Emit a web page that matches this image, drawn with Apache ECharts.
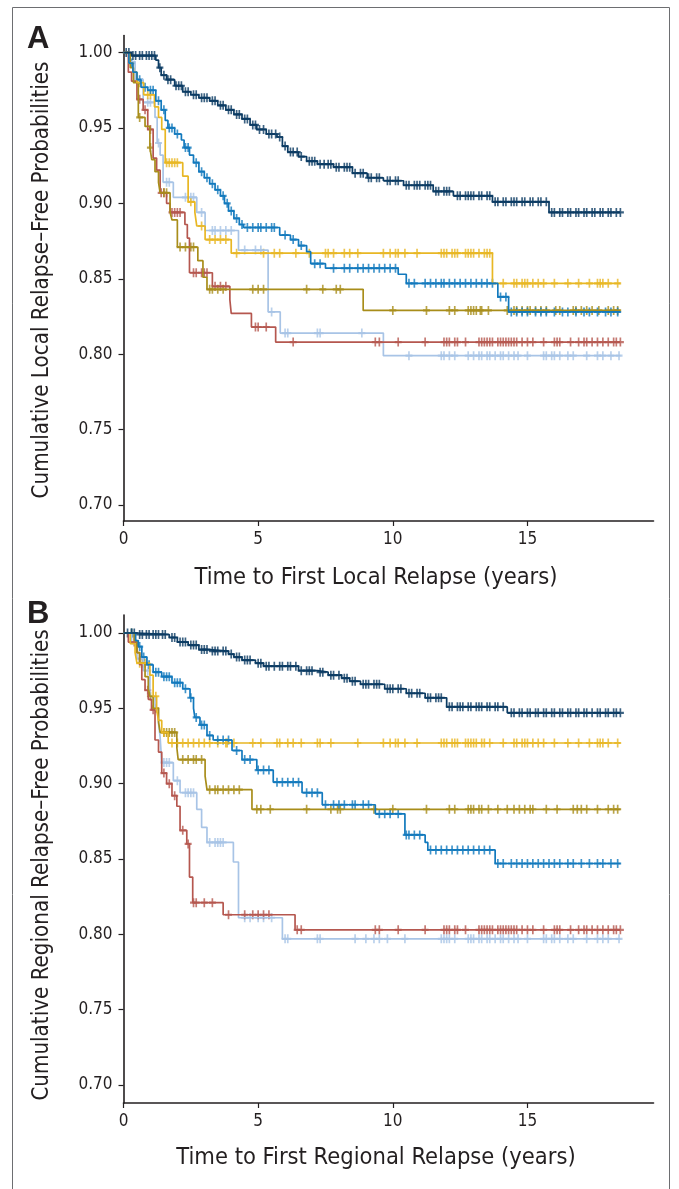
<!DOCTYPE html>
<html>
<head>
<meta charset="utf-8">
<script src="https://cdn.jsdelivr.net/npm/echarts@6/dist/echarts.min.js"></script>
<style>
html, body { margin: 0; padding: 0; background: #fff; }
#main { width: 679px; height: 1189px; }
</style>
</head>
<body>
<div id="main"></div>
<script type="text/javascript">
// tick labels
var yTicks = [0.70, 0.75, 0.80, 0.85, 0.90, 0.95, 1.00];
var xEnd = 18.45;

// ---- panel A : local relapse ----  [time, survival from that time on]
var aNavy = [[0,1],[0.3,0.998],[1.2,0.995],[1.3,0.99],[1.4,0.985],[1.6,0.982],[1.9,0.978],[2.2,0.974],[2.5,0.972],[2.8,0.970],[3.2,0.968],[3.5,0.965],[3.8,0.962],[4.1,0.959],[4.4,0.956],[4.7,0.952],[4.95,0.949],[5.3,0.946],[5.7,0.944],[5.9,0.938],[6.1,0.934],[6.5,0.931],[6.8,0.928],[7.2,0.926],[7.8,0.924],[8.5,0.920],[9.05,0.917],[9.65,0.915],[10.4,0.912],[11.5,0.908],[12.25,0.905],[13.7,0.901],[15.8,0.894]];
var aBlue = [[0,1],[0.2,0.993],[0.35,0.987],[0.5,0.982],[0.65,0.977],[0.9,0.975],[1.2,0.968],[1.4,0.962],[1.55,0.955],[1.65,0.950],[1.9,0.946],[2.15,0.942],[2.25,0.937],[2.45,0.932],[2.6,0.927],[2.8,0.921],[3.0,0.917],[3.2,0.913],[3.4,0.909],[3.6,0.905],[3.75,0.900],[3.9,0.895],[4.1,0.890],[4.3,0.886],[4.45,0.884],[5.8,0.879],[6.2,0.876],[6.5,0.872],[6.8,0.868],[6.95,0.860],[7.5,0.857],[10.2,0.853],[10.5,0.847],[13.9,0.838],[14.3,0.828]];
var aYellow = [[0,1],[0.2,0.993],[0.35,0.987],[0.5,0.980],[0.75,0.972],[1.15,0.964],[1.3,0.957],[1.42,0.949],[1.55,0.927],[2.2,0.918],[2.4,0.901],[2.65,0.894],[2.72,0.885],[3.03,0.876],[4.0,0.867],[13.7,0.847]];
var aOlive = [[0,1],[0.25,0.99],[0.37,0.98],[0.55,0.957],[0.8,0.951],[0.98,0.937],[1.05,0.929],[1.17,0.921],[1.3,0.914],[1.36,0.907],[1.73,0.894],[1.8,0.889],[2.0,0.871],[2.76,0.862],[2.95,0.851],[3.1,0.843],[8.9,0.829]];
var aLight = [[0,1],[0.25,0.994],[0.43,0.982],[0.73,0.967],[1.17,0.957],[1.25,0.94],[1.36,0.932],[1.47,0.914],[1.85,0.904],[2.72,0.894],[3.03,0.882],[4.27,0.869],[5.37,0.828],[5.82,0.814],[9.65,0.799]];
var aRed = [[0,1],[0.18,0.987],[0.3,0.981],[0.5,0.969],[0.73,0.962],[0.9,0.949],[1.1,0.930],[1.23,0.922],[1.36,0.907],[1.6,0.900],[1.73,0.894],[2.28,0.886],[2.37,0.877],[2.45,0.854],[3.3,0.845],[3.95,0.836],[4.0,0.827],[4.75,0.818],[5.65,0.808]];

// censored times, panel A
var aNavyCens = [0.1,0.2,0.35,0.45,0.6,0.7,0.85,0.95,1.05,1.15,1.35,1.5,1.65,1.75,1.95,2.05,2.15,2.3,2.4,2.6,2.7,2.9,3.0,3.1,3.3,3.4,3.6,3.7,3.9,4.0,4.2,4.3,4.5,4.6,4.8,4.9,5.05,5.2,5.4,5.5,5.65,5.8,6.0,6.2,6.3,6.45,6.6,6.9,7.0,7.1,7.3,7.45,7.6,7.7,7.9,8.0,8.2,8.3,8.4,8.6,8.8,8.9,9.1,9.2,9.4,9.5,9.8,9.9,10.1,10.2,10.5,10.6,10.8,10.9,11.0,11.2,11.3,11.4,11.6,11.7,11.9,12.0,12.1,12.4,12.5,12.7,12.8,12.9,13.0,13.2,13.3,13.5,13.6,13.8,13.9,14.1,14.2,14.4,14.5,14.6,14.8,14.9,15.1,15.2,15.4,15.5,15.7,15.9,16.0,16.2,16.3,16.5,16.6,16.8,16.9,17.1,17.2,17.4,17.5,17.7,17.8,18.0,18.1,18.3,18.45];
var aBlueCens = [0.3,0.6,0.8,1.0,1.1,1.3,1.5,1.7,1.8,2.0,2.3,2.4,2.7,2.9,3.1,3.3,3.5,3.7,3.85,4.0,4.2,4.4,4.6,4.8,5.0,5.1,5.3,5.5,5.6,6.0,6.3,6.6,7.1,7.3,7.8,8.2,8.4,8.7,8.9,9.1,9.3,9.5,9.7,9.9,10.1,10.6,10.8,11.2,11.4,11.6,11.8,11.9,12.1,12.3,12.5,12.7,12.9,13.1,13.3,13.5,13.7,14.0,14.2,14.4,14.6,14.8,15.0,15.3,15.5,15.7,16.0,16.3,16.5,16.8,17.1,17.3,17.6,17.9,18.1,18.35];
var aYellowCens = [0.6,0.9,1.0,1.6,1.7,1.8,1.9,2.0,2.5,2.9,3.2,3.4,3.6,3.8,4.2,5.2,5.6,5.8,6.4,6.9,7.5,7.6,7.8,8.2,8.4,8.7,9.65,9.9,10.1,10.2,10.45,10.9,11.8,11.9,12.0,12.2,12.3,12.4,12.7,12.8,12.9,13.0,13.2,13.4,13.5,13.6,14.1,14.5,14.6,14.8,14.9,15.0,15.2,15.4,15.6,16.0,16.5,16.9,17.3,17.6,17.7,17.8,18.0,18.35];
var aOliveCens = [0.6,1.0,1.5,1.6,2.1,2.3,2.5,2.6,3.2,3.3,3.5,3.7,4.8,5.0,5.2,6.8,7.4,7.9,8.05,10.0,11.25,12.1,12.3,12.8,12.9,13.0,13.1,13.25,13.3,13.55,14.25,14.5,14.6,14.8,15.0,15.1,15.3,15.5,15.7,16.05,16.2,16.7,16.8,17.0,17.2,17.4,17.65,18.0,18.2,18.35];
var aLightCens = [0.5,0.9,1.0,1.3,1.6,1.7,2.3,2.5,2.6,2.9,3.3,3.4,3.6,3.8,4.0,4.5,4.9,5.1,5.5,6.0,6.1,7.2,7.3,8.85,10.6,11.8,11.9,12.1,12.3,12.8,13.0,13.2,13.3,13.5,13.6,13.8,14.0,14.1,14.3,14.5,14.65,15.0,15.6,15.7,15.9,16.0,16.2,16.5,16.7,17.2,17.6,17.8,18.1,18.4];
var aRedCens = [0.6,0.8,1.0,1.4,1.5,1.8,1.9,2.0,2.1,2.6,2.7,2.9,3.0,3.1,3.4,3.6,3.8,4.9,5.0,5.3,6.3,9.35,9.5,10.2,11.2,11.9,12.0,12.1,12.3,12.4,12.7,13.2,13.3,13.4,13.5,13.6,13.7,13.9,14.0,14.1,14.2,14.3,14.4,14.5,14.6,14.8,15.0,15.2,15.6,16.0,16.1,16.2,16.6,16.9,17.1,17.2,17.4,17.6,17.8,18.0,18.2,18.3,18.45];

// ---- panel B : regional relapse ----
var bNavy = [[0,1],[0.5,0.999],[1.7,0.997],[2.0,0.994],[2.4,0.992],[2.8,0.989],[3.2,0.988],[3.9,0.986],[4.1,0.984],[4.4,0.982],[4.9,0.980],[5.2,0.978],[6.5,0.975],[7.2,0.974],[7.6,0.972],[8.1,0.970],[8.4,0.968],[8.8,0.966],[9.7,0.963],[10.5,0.960],[11.2,0.957],[12.0,0.951],[14.25,0.947]];
var bBlue = [[0,1],[0.45,0.995],[0.55,0.991],[0.68,0.984],[0.87,0.979],[1.1,0.974],[1.42,0.971],[1.8,0.967],[2.2,0.963],[2.47,0.957],[2.6,0.950],[2.65,0.944],[2.84,0.939],[3.1,0.932],[3.33,0.929],[4.03,0.922],[4.4,0.916],[4.95,0.909],[5.56,0.901],[6.63,0.894],[7.38,0.886],[9.35,0.880],[10.45,0.866],[11.2,0.861],[11.3,0.856],[13.8,0.847]];
var bYellow = [[0,1],[0.25,0.993],[0.43,0.987],[0.5,0.980],[0.98,0.972],[1.1,0.958],[1.23,0.949],[1.3,0.942],[1.42,0.934],[1.66,0.927]];
var bOlive = [[0,1],[0.4,0.995],[0.5,0.987],[0.6,0.980],[0.8,0.971],[0.92,0.963],[0.98,0.958],[1.1,0.950],[1.3,0.941],[1.36,0.934],[1.98,0.924],[2.03,0.916],[3.03,0.905],[3.1,0.896],[4.77,0.883]];
var bLight = [[0,1],[0.3,0.993],[0.5,0.983],[0.73,0.975],[0.98,0.958],[1.17,0.949],[1.3,0.940],[1.36,0.931],[1.42,0.914],[1.85,0.902],[2.1,0.894],[2.72,0.883],[2.9,0.871],[3.1,0.861],[4.08,0.848],[4.27,0.811],[5.9,0.797]];
var bRed = [[0,1],[0.18,0.994],[0.5,0.987],[0.6,0.979],[0.68,0.969],[0.8,0.962],[0.92,0.956],[1.04,0.949],[1.17,0.929],[1.3,0.921],[1.42,0.907],[1.6,0.900],[1.8,0.892],[1.98,0.885],[2.1,0.869],[2.35,0.860],[2.45,0.838],[2.57,0.821],[3.7,0.813],[6.37,0.803]];

// censored times, panel B
var bNavyCens = [0.15,0.3,0.4,0.6,0.7,0.85,0.95,1.1,1.2,1.3,1.45,1.55,1.8,1.9,2.1,2.2,2.3,2.5,2.6,2.7,2.9,3.0,3.1,3.3,3.4,3.5,3.7,3.8,4.0,4.2,4.3,4.5,4.6,4.7,5.0,5.1,5.3,5.4,5.6,5.8,5.9,6.1,6.2,6.4,6.6,6.8,6.9,7.0,7.3,7.4,7.7,7.8,8.0,8.2,8.3,8.5,8.6,8.9,9.0,9.1,9.3,9.4,9.5,9.8,9.9,10.0,10.2,10.3,10.6,10.7,10.9,11.0,11.3,11.4,11.6,11.7,11.8,12.1,12.2,12.4,12.5,12.6,12.8,12.9,13.1,13.2,13.3,13.5,13.6,13.8,13.9,14.1,14.4,14.5,14.7,14.8,15.0,15.1,15.3,15.4,15.6,15.7,15.9,16.0,16.2,16.3,16.5,16.6,16.8,16.9,17.1,17.2,17.4,17.6,17.7,17.9,18.0,18.2,18.3,18.45];
var bBlueCens = [0.3,0.6,0.75,0.95,1.2,1.3,1.5,1.6,1.7,1.9,2.0,2.1,2.3,2.5,2.7,2.9,3.0,3.2,3.5,3.7,3.9,4.2,4.5,4.7,5.0,5.2,5.4,5.7,5.9,6.1,6.3,6.5,6.8,7.0,7.2,7.5,7.8,8.0,8.2,8.5,8.6,8.9,9.1,9.5,9.7,9.9,10.2,10.5,10.6,10.8,11.0,11.4,11.6,11.8,12.0,12.2,12.4,12.6,12.8,13.0,13.2,13.4,13.6,13.9,14.1,14.4,14.6,14.8,15.0,15.2,15.4,15.6,15.8,16.0,16.2,16.5,16.7,17.0,17.3,17.6,17.8,18.1,18.35];
var bYellowCens = [0.6,0.8,1.2,1.5,1.8,2.0,2.2,2.4,2.6,2.8,3.0,3.2,3.5,3.8,3.85,4.1,4.8,5.1,5.7,5.8,6.1,6.3,6.6,7.2,7.3,7.7,8.7,9.65,9.9,10.1,10.2,10.45,10.9,11.8,11.9,12.0,12.2,12.3,12.4,12.7,12.8,12.9,13.0,13.1,13.3,13.4,13.6,14.1,14.5,14.6,14.8,14.9,15.0,15.2,15.4,15.6,16.0,16.5,16.9,17.3,17.6,17.7,17.8,18.0,18.35];
var bOliveCens = [0.3,0.7,1.0,1.2,1.5,1.6,1.7,1.8,1.9,2.2,2.4,2.6,2.7,2.9,3.2,3.4,3.5,3.7,3.9,4.1,4.3,4.95,5.1,5.45,6.8,7.7,7.95,8.05,9.3,10.0,11.25,12.1,12.3,12.8,12.9,13.0,13.2,13.3,13.55,13.9,14.25,14.5,14.7,14.9,15.1,15.2,15.7,16.1,16.7,16.85,17.0,17.2,17.6,18.0,18.2,18.35];
var bLightCens = [0.6,0.9,1.5,1.6,1.7,2.0,2.3,2.4,2.5,2.6,3.2,3.4,3.5,3.6,3.7,4.5,4.7,5.0,5.2,5.5,6.0,6.1,7.2,7.3,8.6,9.0,9.3,9.5,9.8,10.45,11.8,11.9,12.0,12.1,12.3,12.8,12.9,13.0,13.2,13.3,13.5,13.6,13.8,14.0,14.1,14.3,14.5,14.65,15.0,15.6,15.7,15.9,16.0,16.2,16.5,16.7,17.2,17.6,17.8,18.0,18.4];
var bRedCens = [0.4,0.9,1.1,1.5,1.7,1.9,2.2,2.4,2.6,2.7,3.0,3.3,3.9,4.5,4.8,5.0,5.2,5.4,6.45,6.6,9.35,9.5,10.2,11.2,11.9,12.0,12.1,12.3,12.4,12.7,13.2,13.3,13.4,13.5,13.6,13.7,13.9,14.0,14.1,14.2,14.3,14.4,14.5,14.6,14.8,15.0,15.2,15.6,16.0,16.1,16.2,16.6,16.9,17.1,17.2,17.4,17.6,17.8,18.0,18.2,18.3,18.45];

var colNavy = '#0b3b63', colBlue = '#1279bd', colLight = '#a8c4e6',
	colYellow = '#e8b724', colOlive = '#a88d1a', colRed = '#b5574f';
var axisCol = '#231f20';
var font = "'Liberation Sans Narrow', 'DejaVu Sans Condensed', 'Liberation Sans', sans-serif";
var plusPath = 'path://M3.8,0h2.4v3.8h3.8v2.4h-3.8v3.8h-2.4v-3.8h-3.8v-2.4h3.8z';

// survival value at time t (step function lookup)
function survAt(steps, t) {
	var v = steps[0][1];
	for (var i = 0; i < steps.length; i++) {
		if (steps[i][0] <= t) v = steps[i][1];
	}
	return v;
}

function curve(steps, cens, color, idx) {
	var line = steps.slice();
	line.push([xEnd, steps[steps.length - 1][1]]);
	var marks = cens.map(function(t) { return [t, survAt(steps, t)]; });
	return [{
		type: 'line', step: 'end', xAxisIndex: idx, yAxisIndex: idx,
		data: line, showSymbol: false, silent: true,
		lineStyle: { color: color, width: 1.7 }
	}, {
		type: 'scatter', xAxisIndex: idx, yAxisIndex: idx,
		data: marks, symbol: plusPath, symbolSize: [7, 9], silent: true,
		itemStyle: { color: color }
	}];
}

function xAx(idx) {
	return {
		type: 'value', gridIndex: idx, min: 0, max: 19.68, interval: 5,
		axisLine: { lineStyle: { color: axisCol, width: 1.6 } },
		axisTick: { length: 5, lineStyle: { color: axisCol, width: 1.2 } },
		axisLabel: { fontFamily: font, fontSize: 17, color: axisCol, margin: 10, showMaxLabel: false },
		splitLine: { show: false }
	};
}

function yAx(idx, min, max) {
	return {
		type: 'value', gridIndex: idx, min: min, max: max,
		axisLine: { lineStyle: { color: axisCol, width: 1.6 } },
		axisTick: { length: 5, customValues: yTicks, lineStyle: { color: axisCol, width: 1.2 } },
		axisLabel: { fontFamily: font, fontSize: 17, color: axisCol, margin: 11, customValues: yTicks,
			formatter: function(v) { return v.toFixed(2); } },
		splitLine: { show: false }
	};
}

var chart = echarts.init(document.getElementById('main'));
var series = [].concat(
	curve(aLight, aLightCens, colLight, 0),
	curve(aRed, aRedCens, colRed, 0),
	curve(aOlive, aOliveCens, colOlive, 0),
	curve(aYellow, aYellowCens, colYellow, 0),
	curve(aBlue, aBlueCens, colBlue, 0),
	curve(aNavy, aNavyCens, colNavy, 0),
	curve(bLight, bLightCens, colLight, 1),
	curve(bRed, bRedCens, colRed, 1),
	curve(bOlive, bOliveCens, colOlive, 1),
	curve(bYellow, bYellowCens, colYellow, 1),
	curve(bBlue, bBlueCens, colBlue, 1),
	curve(bNavy, bNavyCens, colNavy, 1)
);

var titleFont = "23.5px " + font;
var yTitleFont = "22.2px " + font;
function centred(text, x, y, f, rot) {
	return { type: 'text', x: x, y: y, rotation: rot || 0,
		style: { text: text, font: f, fill: axisCol, textAlign: 'center', textVerticalAlign: 'middle' } };
}

chart.setOption({
	animation: false,
	backgroundColor: '#fff',
	grid: [
		{ left: 123.5, top: 35.5, width: 530, height: 485.5 },
		{ left: 123.5, top: 615, width: 530, height: 488 }
	],
	xAxis: [xAx(0), xAx(1)],
	yAxis: [yAx(0, 0.6894, 1.0113), yAx(1, 0.68805, 1.01195)],
	graphic: [
		{ type: 'rect', shape: { x: 12.5, y: 7.5, width: 657, height: 1200 },
			style: { fill: null, stroke: '#6d6e71', lineWidth: 1 } },
		centred('Time to First Local Relapse (years)', 376, 578, titleFont),
		centred('Time to First Regional Relapse (years)', 376, 1158, titleFont),
		centred('Cumulative Local Relapse\u2013Free Probabilities', 42, 280, yTitleFont, Math.PI / 2),
		centred('Cumulative Regional Relapse\u2013Free Probabilities', 42, 865, yTitleFont, Math.PI / 2),
		{ type: 'text', left: 27, top: 24,
			style: { text: 'A', font: "bold 31px 'Liberation Sans', Arial, sans-serif", fill: axisCol } },
		{ type: 'text', left: 27, top: 599,
			style: { text: 'B', font: "bold 31px 'Liberation Sans', Arial, sans-serif", fill: axisCol } }
	],
	series: series
});
</script>
</body>
</html>
